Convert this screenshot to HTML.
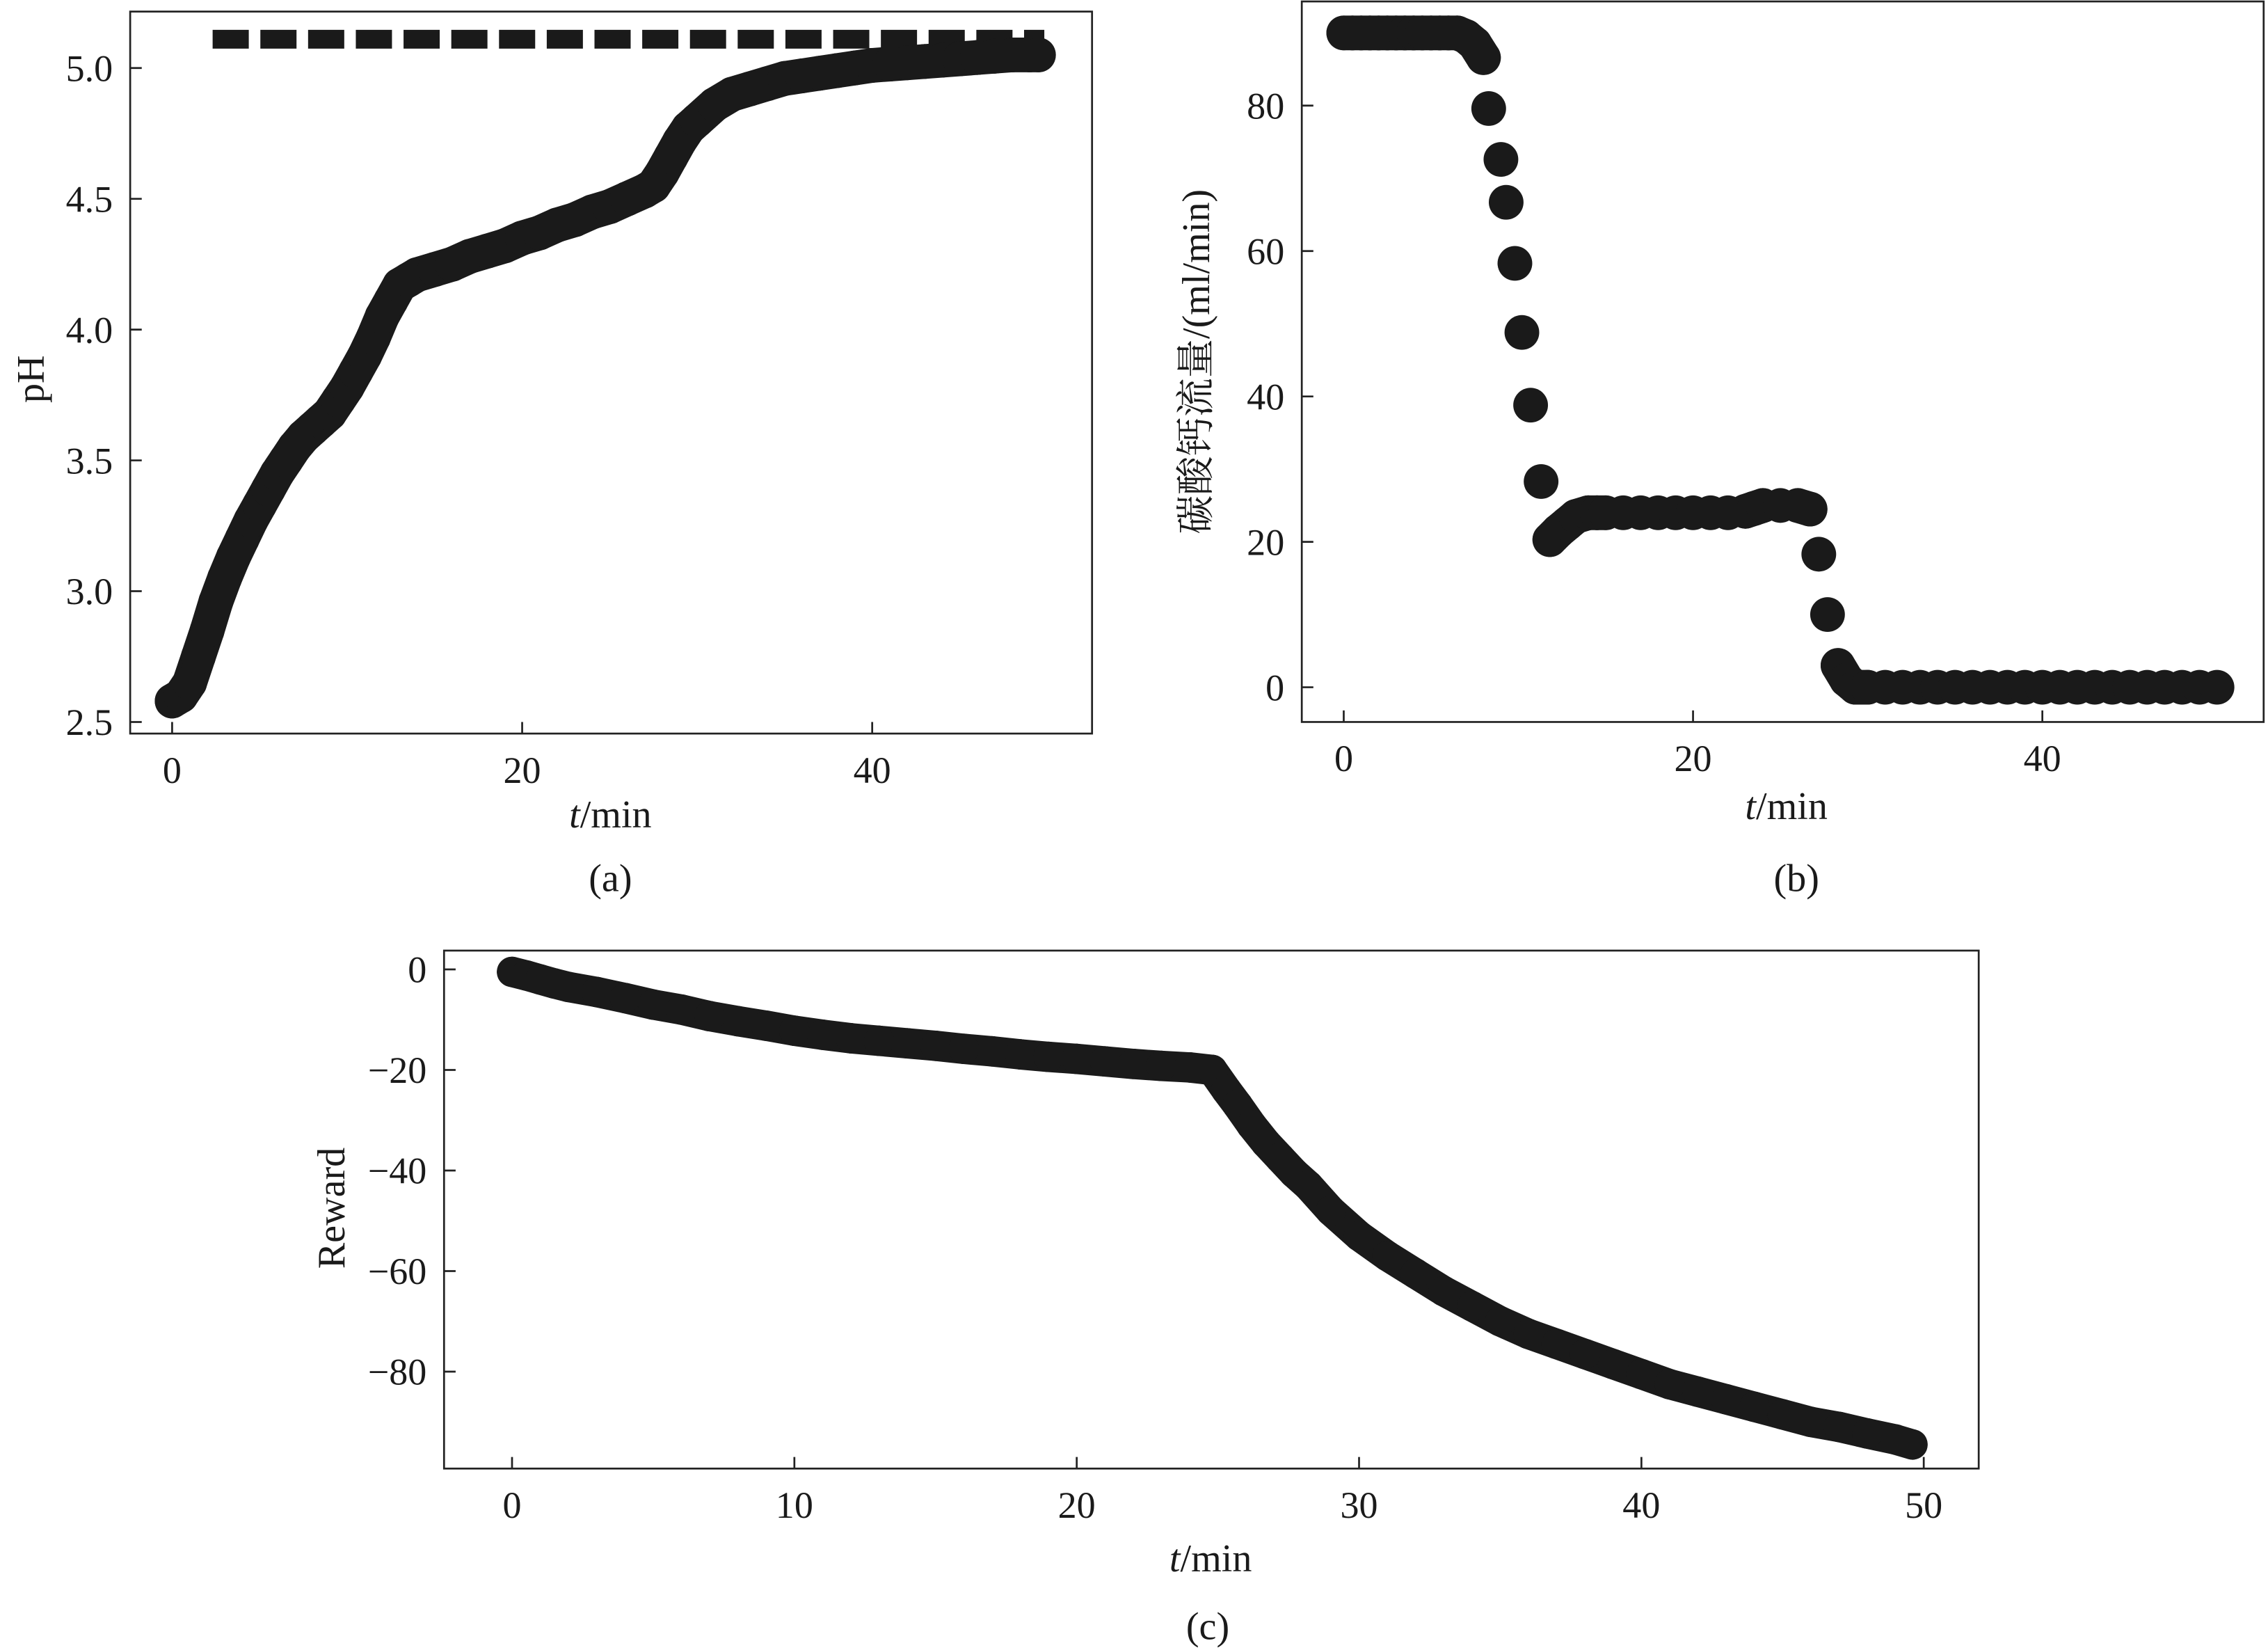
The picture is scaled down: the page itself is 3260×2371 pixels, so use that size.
<!DOCTYPE html>
<html><head><meta charset="utf-8"><style>
html,body{margin:0;padding:0;background:#fff;}
svg{display:block;}
text{font-family:"Liberation Serif","Noto Serif CJK SC",serif;fill:#1a1a1a;}
</style></head><body>
<svg id="fig" width="3260" height="2371" viewBox="0 0 1568 1140.4" preserveAspectRatio="none" xmlns="http://www.w3.org/2000/svg">
<g id="pa"></g>
<g id="pb"></g>
<g id="pc"></g>
</svg>
<script>
const phTimes=[0,0.5,1,1.5,2,2.5,3,3.5,4,4.5,5,5.5,6,6.5,7,7.5,8,8.5,9,9.5,10,10.5,11,11.5,12,12.5,13,13.5,14,15,16,17,18,19,20,21,22,23,24,25,26,27,27.5,28,28.5,29,29.5,30,31,32,33,34,35,36,37,38,39,40,41,42,43,44,45,46,47,48,49,49.5];
const phValues=[2.58,2.6,2.65,2.75,2.85,2.96,3.05,3.13,3.2,3.27,3.33,3.39,3.45,3.5,3.55,3.59,3.62,3.65,3.68,3.73,3.78,3.84,3.9,3.97,4.05,4.11,4.17,4.19,4.21,4.23,4.25,4.28,4.3,4.32,4.35,4.37,4.4,4.42,4.45,4.47,4.5,4.53,4.55,4.6,4.66,4.72,4.77,4.8,4.86,4.9,4.92,4.94,4.96,4.97,4.98,4.99,5.0,5.01,5.015,5.02,5.025,5.03,5.035,5.04,5.045,5.05,5.05,5.05];
const phSetpoint=5.11;
const phXTicks=[0,20,40];
const phYTicks=[2.5,3.0,3.5,4.0,4.5,5.0];

const flowTimes=[0,0.5,1,1.5,2,2.5,3,3.5,4,4.5,5,5.5,6,6.5,7,7.5,8,8.3,9,9.3,9.8,10.2,10.7,11.3,11.8,12.3,12.8,13.3,14,14.5,15,16,17,18,19,20,21,22,23,23.5,24,25,26,26.7,27.2,27.7,28.3,28.8,29.3,30,31,32,33,34,35,36,37,38,39,40,41,42,43,44,45,46,47,48,49,50];
const flowValues=[90,90,90,90,90,90,90,90,90,90,90,90,90,90,89.5,88.5,86.6,79.6,72.6,66.7,58.3,48.8,38.8,28.3,20.3,21.5,22.5,23.5,24,24,24,24,24,24,24,24,24,24,24.2,24.6,25,25,25,24.5,18.3,10,3,1,0,0,0,0,0,0,0,0,0,0,0,0,0,0,0,0,0,0,0,0,0,0];
const flowXTicks=[0,20,40];
const flowYTicks=[0,20,40,60,80];

const rwTimes=[0,0.5,1,1.5,2,3,4,5,6,7,8,9,10,11,12,13,14,15,16,17,18,19,20,21,22,23,24,24.8,25.3,25.7,26.2,26.7,27.2,27.7,28.2,29,30,31,32,33,34,35,36,37,38,39,40,41,42,43,44,45,46,47,48,49,49.6];
const rwValues=[-0.5,-1.2,-2,-2.8,-3.5,-4.5,-5.7,-7,-8,-9.3,-10.3,-11.2,-12.2,-13,-13.7,-14.2,-14.7,-15.2,-15.8,-16.3,-16.9,-17.4,-17.8,-18.3,-18.8,-19.2,-19.5,-20,-24,-27,-31,-34.5,-37.5,-40.5,-43,-48,-53,-57,-60.5,-64,-67,-70,-72.5,-74.5,-76.5,-78.5,-80.5,-82.5,-84,-85.5,-87,-88.5,-90,-91,-92.3,-93.5,-94.5];
const rwXTicks=[0,10,20,30,40,50];
const rwYTicks=[0,-20,-40,-60,-80];

const NS="http://www.w3.org/2000/svg";
function mk(parent,tag,attrs,txt){const e=document.createElementNS(NS,tag);for(const k in attrs)e.setAttribute(k,attrs[k]);if(txt!==undefined)e.textContent=txt;parent.appendChild(e);return e;}
function lin(d0,d1,r0,r1){return v=>r0+(v-d0)*(r1-r0)/(d1-d0);}

function panel(g,box,sx,sy,xt,yt,fmt,markR,times,vals,xlab,ylab,cap,maxJump){
  const fr=mk(g,'rect',{x:box[0],y:box[1],width:box[2]-box[0],height:box[3]-box[1],fill:'none',stroke:'#222','stroke-width':1.3});
  
  
  xt.forEach(v=>{const x=sx(v);
    const t=mk(g,'line',{x1:x,x2:x,y1:box[3],y2:box[3]-8,stroke:'#222','stroke-width':1.3});
    
    
    const l=mk(g,'text',{x:x,y:box[3]+34,'text-anchor':'middle','font-size':26},String(v));
    
    });
  yt.forEach(v=>{const y=sy(v);
    const t=mk(g,'line',{x1:box[0],x2:box[0]+8,y1:y,y2:y,stroke:'#222','stroke-width':1.3});
    
    
    const l=mk(g,'text',{x:box[0]-12,y:y+9,'text-anchor':'end','font-size':26},fmt(v));
    
    });
  // continuous band where samples are densely spaced on screen
  for(let i=1;i<times.length;i++){
    const dx=sx(times[i])-sx(times[i-1]), dy=sy(vals[i])-sy(vals[i-1]);
    if(Math.hypot(dx,dy)<=maxJump){
      const s=mk(g,'line',{x1:sx(times[i-1]),y1:sy(vals[i-1]),x2:sx(times[i]),y2:sy(vals[i]),stroke:'#1a1a1a','stroke-width':markR*2,'stroke-linecap':'round'});
      
      
    }
  }
  times.forEach((t,i)=>{const c=mk(g,'circle',{cx:sx(t),cy:sy(vals[i]),r:markR,fill:'#1a1a1a'});
    
    });
  const xl=mk(g,'text',{x:xlab[0],y:xlab[1],'text-anchor':'middle','font-size':27});
  xl.innerHTML='<tspan font-style="italic">t</tspan>/min';
  
  
  const yl=mk(g,'text',{x:0,y:0,'text-anchor':'middle','font-size':27,transform:`translate(${ylab[0]},${ylab[1]}) rotate(-90)`},ylab[2]);
  
  
  const cp=mk(g,'text',{x:cap[0],y:cap[1],'text-anchor':'middle','font-size':27},cap[2]);
  
  
}

// panel a
const ga=document.getElementById('pa');
const ax=lin(0,40,119,603), ay=lin(2.5,5.0,499,47);
const sp=mk(ga,'line',{x1:147,x2:722,y1:ay(phSetpoint),y2:ay(phSetpoint),stroke:'#1a1a1a','stroke-width':13,'stroke-dasharray':'25 8'});


panel(ga,[90,8,755,507],ax,ay,phXTicks,phYTicks,v=>v.toFixed(1),12,phTimes,phValues,[422,572],[30,262,'pH'],[422,616,'(a)'],40);

// panel b
const gb=document.getElementById('pb');
const bx=lin(0,40,929,1412), by=lin(0,80,475,73);
panel(gb,[900,1,1565,499],bx,by,flowXTicks,flowYTicks,v=>String(v),12,flowTimes,flowValues,[1235,566],[836,250,'碳酸钙流量/(ml/min)'],[1242,616,'(b)'],12);

// panel c
const gc=document.getElementById('pc');
const cx=lin(0,50,354,1330), cy=lin(0,-80,670,948);
panel(gc,[307,657,1368,1015],cx,cy,rwXTicks,rwYTicks,v=>v<0?'\u2212'+(-v):String(v),10.5,rwTimes,rwValues,[837,1086],[238,835,'Reward'],[835,1133,'(c)'],40);
</script>
</body></html>
